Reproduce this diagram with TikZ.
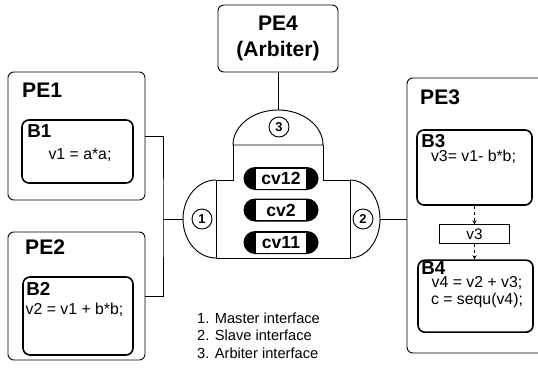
\documentclass[tikz,border=0pt]{standalone}
\usepackage{fontspec}
\setmainfont{Liberation Sans}
\usetikzlibrary{shapes.geometric, shapes.misc, arrows, calc, positioning}
\tikzstyle{pebox} = [rectangle, rounded corners=5pt, draw=black, line width=0.8pt, inner sep=0pt]
\tikzstyle{blockbox} = [rectangle, rounded corners=6pt, draw=black, line width=1.4pt, inner sep=0pt]
\tikzstyle{petitle} = [font=\fontsize{18}{22}\selectfont\bfseries, inner sep=0pt]
\tikzstyle{btitle} = [font=\fontsize{16}{19}\selectfont\bfseries, inner sep=0pt]
\tikzstyle{code} = [font=\fontsize{13.5}{14}\selectfont, inner sep=0pt, align=center]
\tikzstyle{channel} = [rounded rectangle, fill=black, minimum width=2.25cm, minimum height=0.69cm, inner sep=0pt]
\tikzstyle{chanlabel} = [rectangle, draw=black, fill=white, line width=0.5pt, minimum width=1.53cm, minimum height=0.62cm, inner sep=0pt, font=\fontsize{15}{18}\selectfont\bfseries]
\tikzstyle{port} = [circle, draw=black, line width=0.8pt, minimum size=0.6cm, inner sep=0pt, font=\fontsize{11}{13}\selectfont\bfseries]
\tikzstyle{varbox} = [rectangle, draw=black, line width=0.8pt, minimum width=2.1cm, minimum height=0.54cm, font=\fontsize{13}{15}\selectfont]
\tikzstyle{wire} = [line width=0.8pt]
\tikzstyle{arrow} = [densely dashed, line width=0.6pt, ->, >=stealth]

\begin{document}
\begin{tikzpicture}[x=0.03cm, y=0.03cm, node distance=2cm]
    \useasboundingbox (0,0) rectangle (538,-367);
    % processing elements
    \node (pe1) [pebox, minimum width=4.11cm, minimum height=3.84cm] at (76.5,-136) {};
    \node (pe2) [pebox, minimum width=4.11cm, minimum height=3.84cm] at (76.5,-296) {};
    \node (pe3) [pebox, minimum width=4.23cm, minimum height=8.25cm] at (477.5,-215.5) {};
    \node (pe4) [pebox, petitle, align=center, minimum width=3.6cm, minimum height=2.01cm] at (278,-38.5) {PE4\\(Arbiter)};
    \node (pe1t) [petitle, anchor=west] at (22,-90) {PE1};
    \node (pe2t) [petitle, anchor=west] at (25,-247) {PE2};
    \node (pe3t) [petitle, anchor=west] at (420,-97) {PE3};

    % blocks
    \node (b1) [blockbox, minimum width=3.33cm, minimum height=1.89cm] at (77.5,-151.5) {};
    \node (b2) [blockbox, minimum width=3.3cm, minimum height=2.34cm] at (78,-316) {};
    \node (b3) [blockbox, minimum width=3.45cm, minimum height=2.25cm] at (474.5,-167.5) {};
    \node (v3) [varbox, below of=b3] {v3};
    \node (b4) [blockbox, minimum width=3.45cm, minimum height=2.16cm, below of=v3, yshift=0.14cm, xshift=0.03cm] {};
    \node (b1t) [btitle, below right=0.15cm and 0.18cm of b1.north west] {B1};
    \node (b2t) [btitle, below right=0.18cm and 0.12cm of b2.north west] {B2};
    \node (b3t) [btitle, below right=0.15cm and 0.15cm of b3.north west] {B3};
    \node (b4t) [btitle, below right=0.05cm and 0.12cm of b4.north west] {B4};
    \node (b1c) [code] at (80,-155) {v1 = a*a;};
    \node (b2c) [code] at (74.5,-310) {v2 = v1 + b*b;};
    \node (b3c) [code] at (473.5,-157) {v3= v1- b*b;};
    \node (b4c) [code] at (477,-292) {v4 = v2 + v3;\\c = sequ(v4);};

    % bus with its three interfaces
    \draw [wire] (233,-145) arc[start angle=180, end angle=0, x radius=45, y radius=35] -- cycle;
    \draw [wire] (233,-145) -- (233,-180) -- (216,-180) -- (216,-258) -- (350,-258) -- (350,-180) -- (323,-180) -- (323,-145);
    \draw [wire] (216,-180) arc[start angle=90, end angle=270, x radius=33, y radius=39];
    \draw [wire] (350,-180) arc[start angle=90, end angle=-90, x radius=30, y radius=39];
    \coordinate (arbtop) at (278,-110);
    \coordinate (mport) at (183,-219);
    \coordinate (sport) at (380,-219);
    \coordinate (join) at (163,-219);
    \node (p1) [port] at (202,-219) {1};
    \node (p2) [port] at (363,-219) {2};
    \node (p3) [port] at (279,-127) {3};
    \node (cv12) [channel] at (281,-178.5) {};
    \node (cv12l) [chanlabel] at (cv12) {cv12};
    \node (cv2) [channel] at (281,-210) {};
    \node (cv2l) [chanlabel] at (cv2) {cv2};
    \node (cv11) [channel] at (281,-242.5) {};
    \node (cv11l) [chanlabel] at (cv11) {cv11};

    \node (legend) [font=\fontsize{12.5}{15}\selectfont, align=left, anchor=west, inner sep=0pt] at (197,-335.5) {1. Master interface\\2. Slave interface\\3. Arbiter interface};

    \draw [wire] (pe4.south) -- (arbtop);
    \draw [wire] (pe1.east) -| (join) |- (pe2.east); %linea a parentesi
    \draw [wire] (join) -- (mport);
    \draw [wire] (sport) -- (sport -| pe3.west);
    \draw [arrow] (b3.south) -- (v3.north);
    \draw [arrow] (v3.south) -- (v3.south |- b4.north);
\end{tikzpicture}
\end{document}
